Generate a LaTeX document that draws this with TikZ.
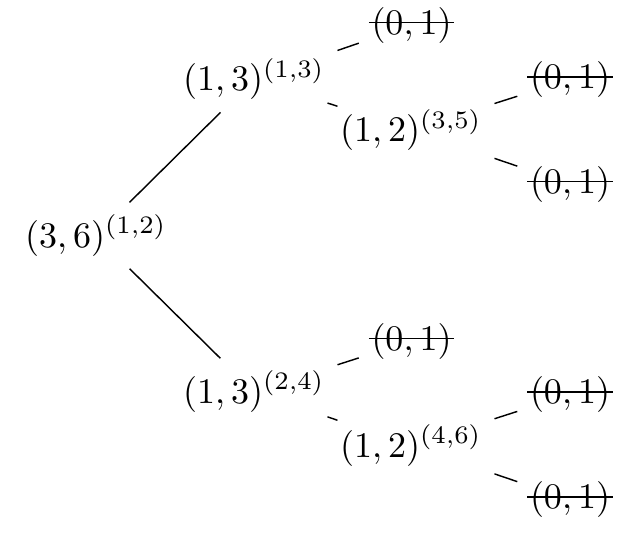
\documentclass[tikz,border=0pt]{standalone}
\newcommand\strk[1]{\setbox0=\hbox{#1}\rlap{\kern-0.7pt\vrule width\dimexpr\wd0+1.4pt\relax height3.45pt depth-2.95pt}\box0}
\tikzset{
  tnode/.style={anchor=base, inner sep=0.3333em},
  tedge/.style={line width=0.4pt}
}
\begin{document}
\begin{tikzpicture}[x=0.2778pt,y=-0.2778pt]
\useasboundingbox (0,0) rectangle (640,533);
\node[tnode] (r)  at (96,247)    {$(3,6)^{(1,2)}$};
\node[tnode] (a)  at (254,90.7)  {$(1,3)^{(1,3)}$};
\node[tnode] (a1) at (411.5,34)  {\strk{$(0,1)$}};
\node[tnode] (b)  at (411,141.5) {$(1,2)^{(3,5)}$};
\node[tnode] (b1) at (570,88.5)  {\strk{$(0,1)$}};
\node[tnode] (b2) at (570,193)   {\strk{$(0,1)$}};
\node[tnode] (c)  at (254,403)   {$(1,3)^{(2,4)}$};
\node[tnode] (c1) at (411.5,350) {\strk{$(0,1)$}};
\node[tnode] (d)  at (411,457)   {$(1,2)^{(4,6)}$};
\node[tnode] (d1) at (570,403.5) {\strk{$(0,1)$}};
\node[tnode] (d2) at (570,508.5) {\strk{$(0,1)$}};
\draw[tedge] (r) -- (a);
\draw[tedge] (r) -- (c);
\draw[tedge] (a) -- (a1);
\draw[tedge] (a) -- (b);
\draw[tedge] (b) -- (b1);
\draw[tedge] (b) -- (b2);
\draw[tedge] (c) -- (c1);
\draw[tedge] (c) -- (d);
\draw[tedge] (d) -- (d1);
\draw[tedge] (d) -- (d2);
\end{tikzpicture}
\end{document}
